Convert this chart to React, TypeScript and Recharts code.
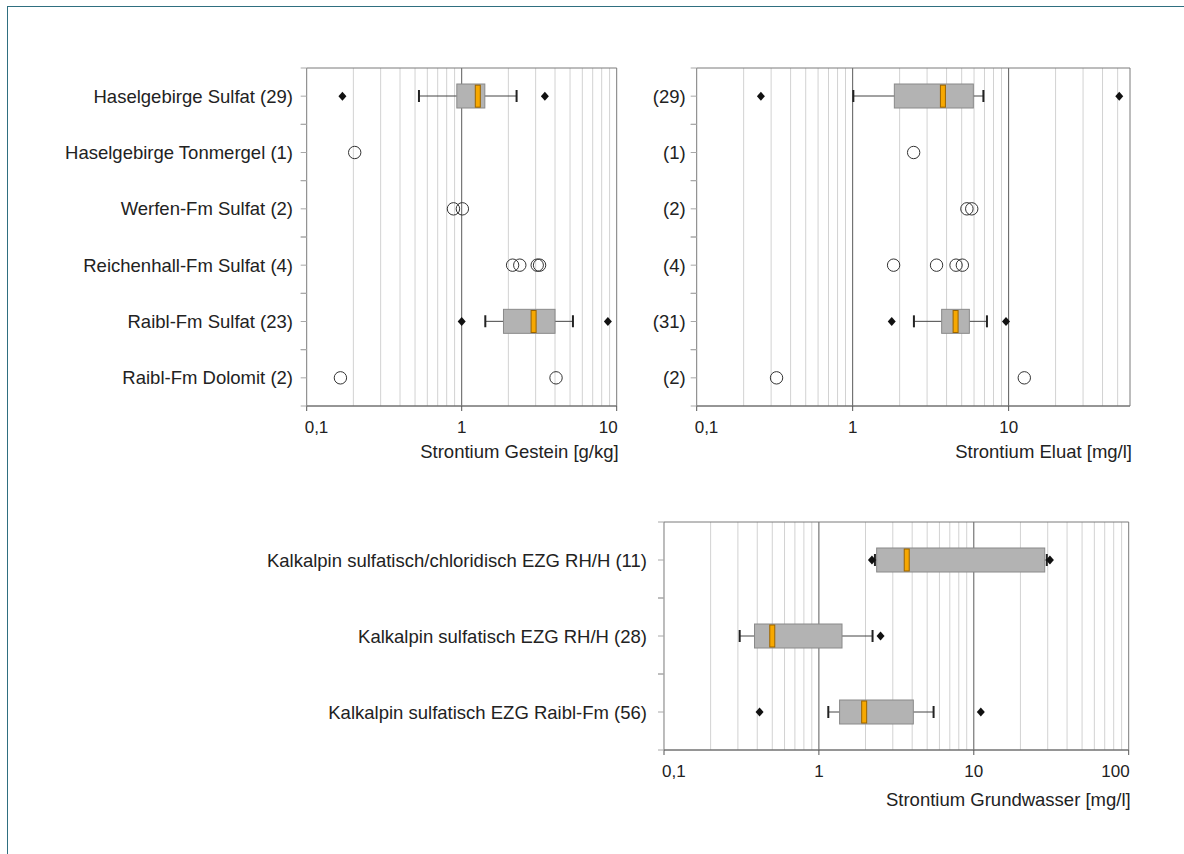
import React from 'react';
import { ComposedChart, Bar, Scatter, XAxis, YAxis, ReferenceLine, ReferenceArea } from 'recharts';

const FONT = '"Liberation Sans", Arial, Helvetica, sans-serif';

// Strontium Gestein [g/kg]
const rockLabels = [
  'Haselgebirge Sulfat (29)',
  'Haselgebirge Tonmergel (1)',
  'Werfen-Fm Sulfat (2)',
  'Reichenhall-Fm Sulfat (4)',
  'Raibl-Fm Sulfat (23)',
  'Raibl-Fm Dolomit (2)',
];
// [whisker low, Q1, median, Q3, whisker high]
const rockBoxes = [[0.53, 0.93, 1.27, 1.41, 2.26], null, null, null, [1.42, 1.86, 2.91, 4.0, 5.22], null];
const rockOutliers = [[0.17, 3.44], [], [], [], [1.0, 8.77], []];
const rockSingles = [[], [0.204], [0.885, 1.01], [2.13, 2.37, 3.07, 3.18], [], [0.165, 4.06]];

// Strontium Eluat [mg/l]
const eluatLabels = ['(29)', '(1)', '(2)', '(4)', '(31)', '(2)'];
const eluatBoxes = [[1.01, 1.85, 3.79, 5.94, 6.89], null, null, null, [2.47, 3.72, 4.57, 5.6, 7.26], null];
const eluatOutliers = [[0.258, 51.2], [], [], [], [1.78, 9.62], []];
const eluatSingles = [[], [2.46], [5.4, 5.8], [1.83, 3.45, 4.6, 5.05], [], [0.325, 12.6]];

// Strontium Grundwasser [mg/l]
const waterLabels = [
  'Kalkalpin sulfatisch/chloridisch EZG RH/H (11)',
  'Kalkalpin sulfatisch EZG RH/H (28)',
  'Kalkalpin sulfatisch EZG Raibl-Fm (56)',
];
const waterBoxes = [[2.3, 2.36, 3.69, 28.7, 29.6], [0.308, 0.384, 0.5, 1.41, 2.22], [1.15, 1.36, 1.96, 4.07, 5.5]];
const waterOutliers = [[2.2, 31.0], [2.5], [0.414, 11.1]];
const waterSingles = [[], [], []];

const decadeTicks = [0.1, 1, 10, 100];
const majorGrid = [1, 10];
const minorGrid = [0.2, 0.3, 0.4, 0.5, 0.6, 0.7, 0.8, 0.9, 2, 3, 4, 5, 6, 7, 8, 9, 20, 30, 40, 50, 60, 70, 80, 90];

const fmt = (v: number) => String(v).replace('.', ',');

const BoxShape = (p: any) => {
  const { x, y, width, height } = p;
  if (![x, y, width, height].every(Number.isFinite) || width <= 0) return <g />;
  return <rect x={x} y={y} width={width} height={height} fill="#b3b3b3" stroke="#8a8a8a" strokeWidth={1} />;
};

const WhiskerShape = (p: any) => {
  const { x, y, width, height } = p;
  if (![x, y, width, height].every(Number.isFinite) || width <= 0) return <g />;
  const cy = y + height / 2;
  return (
    <g>
      <line x1={x} x2={x + width} y1={cy} y2={cy} stroke="#444" strokeWidth={1} />
      <line x1={x} x2={x} y1={cy - 6} y2={cy + 6} stroke="#222" strokeWidth={2} />
      <line x1={x + width} x2={x + width} y1={cy - 6} y2={cy + 6} stroke="#222" strokeWidth={2} />
    </g>
  );
};

const MedianShape = (p: any) => {
  const { cx, cy } = p;
  if (!Number.isFinite(cx) || !Number.isFinite(cy)) return <g />;
  return <rect x={cx - 2.5} y={cy - 11} width={5} height={22} fill="#f7a800" stroke="#9a6400" strokeWidth={1} />;
};

const DiamondShape = (p: any) => {
  const { cx, cy } = p;
  if (!Number.isFinite(cx) || !Number.isFinite(cy)) return <g />;
  return <polygon points={`${cx},${cy - 4.5} ${cx + 4},${cy} ${cx},${cy + 4.5} ${cx - 4},${cy}`} fill="#111" />;
};

const CircleShape = (p: any) => {
  const { cx, cy } = p;
  if (!Number.isFinite(cx) || !Number.isFinite(cy)) return <g />;
  return <circle cx={cx} cy={cy} r={6.2} fill="none" stroke="#333" strokeWidth={1} />;
};

interface PanelProps {
  labels: string[];
  boxes: (number[] | null)[];
  outliers: number[][];
  singles: number[][];
  max: number;
  title: string;
  width: number;
  height: number;
  margin: { top: number; right: number; bottom: number; left: number };
  labelWidth: number;
  labelGap: number;
  titleDy: number;
}

const X_AXIS_HEIGHT = 60;

const Panel: React.FC<PanelProps> = ({ labels, boxes, outliers, singles, max, title, width, height, margin, labelWidth, labelGap, titleDy }) => {
  const rows = labels.map((_, i) => {
    const b = boxes[i];
    const row: any = {
      key: String(i),
      box: b ? [b[1], b[3]] : null,
      whisker: b ? [b[0], b[4]] : null,
      med: b ? b[2] : null,
    };
    outliers[i].forEach((v, j) => (row['o' + j] = v));
    singles[i].forEach((v, j) => (row['s' + j] = v));
    return row;
  });
  const outKeys = Array.from({ length: Math.max(...outliers.map((o) => o.length)) }, (_, j) => 'o' + j);
  const singleKeys = Array.from({ length: Math.max(...singles.map((s) => s.length)) }, (_, j) => 's' + j);
  const xTicks = decadeTicks.filter((t) => t <= max);
  const min = 0.1;
  const tickSize = 5;
  // fallback half band height if the tick payload carries no offset
  const bandHalf = (height - margin.top - margin.bottom - X_AXIS_HEIGHT) / labels.length / 2;

  const XTick = (props: any) => {
    const { x, y, payload } = props;
    const v = payload.value;
    const anchor = v === min ? 'start' : v === max ? 'end' : 'middle';
    const dx = v === min ? -2 : v === max ? 1 : 0;
    return (
      <text x={x + dx} y={y + 20} textAnchor={anchor} fontSize={17} fill="#222" fontFamily={FONT}>
        {fmt(v)}
      </text>
    );
  };

  const CatTick = (props: any) => {
    const { x, y, payload } = props;
    const axisX = x + tickSize + labelGap;
    const half = Number.isFinite(payload?.offset) && payload.offset > 0 ? payload.offset : bandHalf;
    return (
      <g>
        <text x={x} y={y} dy="0.355em" textAnchor="end" fontSize={18.5} fill="#222" fontFamily={FONT}>
          {labels[Number(payload.value)]}
        </text>
        {[y - half, y, y + half].map((ty, i) => (
          <line key={i} x1={axisX - 6} x2={axisX} y1={ty} y2={ty} stroke="#a8a8a8" strokeWidth={1} />
        ))}
      </g>
    );
  };

  const TitleLabel = (props: any) => {
    const vb = props.viewBox || {};
    return (
      <text x={vb.x + vb.width + 2} y={vb.y + titleDy} textAnchor="end" fontSize={18.5} fill="#222" fontFamily={FONT}>
        {title}
      </text>
    );
  };

  return (
    <ComposedChart width={width} height={height} data={rows} layout="vertical" margin={margin} barGap={-24}>
      <YAxis
        yAxisId="cat"
        type="category"
        dataKey="key"
        width={labelWidth}
        tickLine={false}
        axisLine={false}
        tickSize={tickSize}
        tickMargin={labelGap}
        tick={<CatTick />}
      />
      <XAxis
        type="number"
        scale="log"
        domain={[min, max]}
        allowDataOverflow
        ticks={xTicks}
        interval={0}
        height={X_AXIS_HEIGHT}
        tickSize={5}
        tickLine={{ stroke: '#555' }}
        axisLine={{ stroke: '#6e6e6e' }}
        tick={<XTick />}
        label={<TitleLabel />}
      />
      {minorGrid
        .filter((v) => v < max)
        .map((v) => (
          <ReferenceLine key={'m' + v} x={v} yAxisId="cat" stroke="#d2d2d2" strokeWidth={1} zIndex={-100} />
        ))}
      {majorGrid
        .filter((v) => v < max)
        .map((v) => (
          <ReferenceLine key={'M' + v} x={v} yAxisId="cat" stroke="#5a5a5a" strokeWidth={1} zIndex={-90} />
        ))}
      <ReferenceArea x1={min} x2={max} yAxisId="cat" fill="none" fillOpacity={0} stroke="#7a7a7a" strokeWidth={1} zIndex={-80} />
      <Bar dataKey="whisker" yAxisId="cat" barSize={24} shape={WhiskerShape} isAnimationActive={false} />
      <Bar dataKey="box" yAxisId="cat" barSize={24} shape={BoxShape} isAnimationActive={false} />
      <Scatter dataKey="med" yAxisId="cat" shape={MedianShape} isAnimationActive={false} />
      {outKeys.map((k) => (
        <Scatter key={k} dataKey={k} yAxisId="cat" shape={DiamondShape} isAnimationActive={false} />
      ))}
      {singleKeys.map((k) => (
        <Scatter key={k} dataKey={k} yAxisId="cat" shape={CircleShape} isAnimationActive={false} />
      ))}
    </ComposedChart>
  );
};

export default function App() {
  return (
    <div style={{ position: 'absolute', left: 0, top: 0, width: 1184, height: 854, background: '#fff', fontFamily: FONT }}>
      <div
        style={{
          position: 'absolute',
          left: 7,
          top: 6,
          width: 1177,
          height: 848,
          borderTop: '1px solid #2f6f80',
          borderLeft: '1px solid #2f6f80',
        }}
      />
      <div style={{ position: 'absolute', left: 0, top: 0 }}>
        <Panel
          labels={rockLabels}
          boxes={rockBoxes}
          outliers={rockOutliers}
          singles={rockSingles}
          max={10}
          title="Strontium Gestein [g/kg]"
          width={640}
          height={480}
          margin={{ top: 68, right: 23.3, bottom: 14, left: 0 }}
          labelWidth={306.7}
          labelGap={8.7}
          titleDy={52}
        />
      </div>
      <div style={{ position: 'absolute', left: 640, top: 0 }}>
        <Panel
          labels={eluatLabels}
          boxes={eluatBoxes}
          outliers={eluatOutliers}
          singles={eluatSingles}
          max={60}
          title="Strontium Eluat [mg/l]"
          width={544}
          height={480}
          margin={{ top: 68, right: 54, bottom: 14, left: 0 }}
          labelWidth={56.7}
          labelGap={6}
          titleDy={52}
        />
      </div>
      <div style={{ position: 'absolute', left: 0, top: 470 }}>
        <Panel
          labels={waterLabels}
          boxes={waterBoxes}
          outliers={waterOutliers}
          singles={waterSingles}
          max={100}
          title="Strontium Grundwasser [mg/l]"
          width={1184}
          height={384}
          margin={{ top: 52, right: 55.3, bottom: 44, left: 0 }}
          labelWidth={664}
          labelGap={12}
          titleDy={56}
        />
      </div>
    </div>
  );
}
